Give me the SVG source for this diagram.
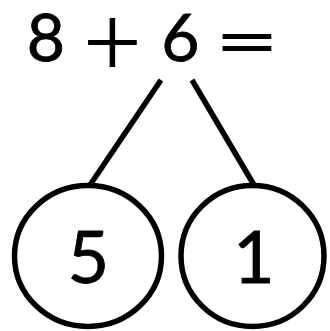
<svg xmlns="http://www.w3.org/2000/svg" width="330" height="331" viewBox="0 0 330 331">
<style>
.t{font-family:Lato,"Noto Sans","Liberation Sans",sans-serif;fill:#000;stroke:#000;stroke-width:0.8;text-anchor:middle}
.op{font-family:"DejaVu Sans","Liberation Sans",sans-serif;font-weight:200;font-size:75px;fill:#000;stroke:#000;stroke-width:1.8;text-anchor:middle}
.eq{font-size:66px}
.n{font-size:72px}
.s{fill:none;stroke:#000;stroke-width:5.5}
</style>
<rect width="330" height="331" fill="#fff"/>
<g id="connectors">
<line class="s" x1="161" y1="80" x2="90" y2="185"/>
<line class="s" x1="192" y1="80" x2="254" y2="185"/>
</g>
<g id="equation">
<text class="t eq" x="46" y="61">8</text>
<text class="op" x="112.5" y="66">+</text>
<text class="t eq" x="180.5" y="61">6</text>
<text class="op" x="247" y="66">=</text>
</g>
<g id="node-5">
<ellipse class="s" cx="88" cy="256" rx="73.5" ry="70.5"/>
<text class="t n" x="88.5" y="283">5</text>
</g>
<g id="node-1">
<ellipse class="s" cx="252.5" cy="256" rx="71.5" ry="70.5"/>
<text class="t n" x="254" y="283">1</text>
</g>
</svg>
